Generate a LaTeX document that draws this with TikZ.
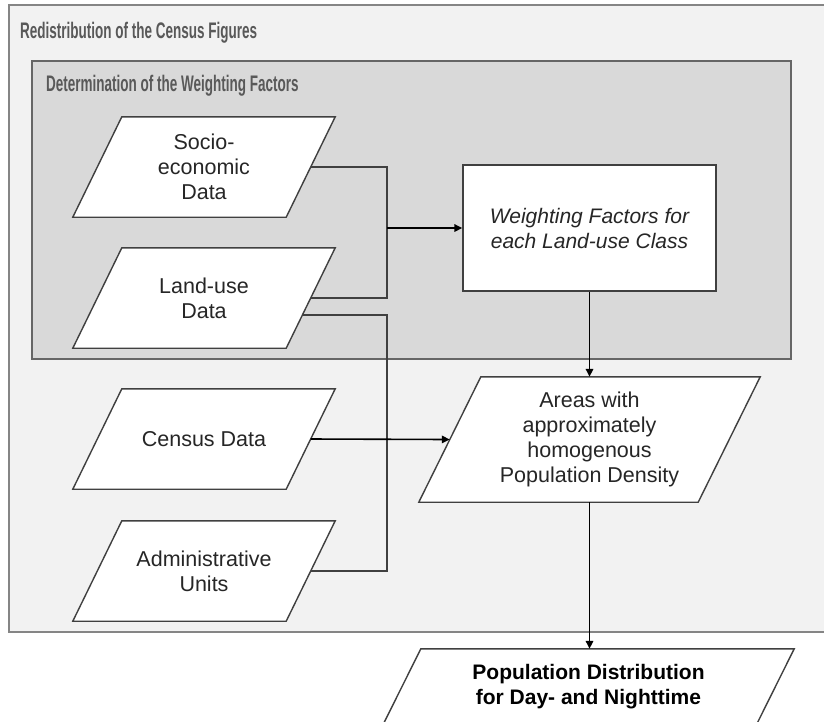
\documentclass[tikz,border=0pt]{standalone}
\usepackage{fontspec}
\setmainfont{Liberation Sans}
\newfontfamily\narrowfont[FakeStretch=0.6]{Liberation Sans}
\usetikzlibrary{arrows.meta,backgrounds}
\definecolor{outerfill}{HTML}{F2F2F2}
\definecolor{innerfill}{HTML}{D9D9D9}
\definecolor{framegray}{HTML}{858585}
\definecolor{wiregray}{HTML}{404040}
\definecolor{titlegray}{HTML}{595959}
\definecolor{inkgray}{HTML}{262626}
\pgfdeclarelayer{bottom}
\pgfsetlayers{bottom,background,main}
% slanted outline behind a data node: #1 node name, #2 half of the slant
\newcommand{\dataframe}[2]{%
  \draw[dataframe] ([xshift=#2]#1.north west) -- ([xshift=#2]#1.north east)
    -- ([xshift=-#2]#1.south east) -- ([xshift=-#2]#1.south west) -- cycle;}

\begin{document}
\begin{tikzpicture}[x=1pt,y=-1pt,
  datanode/.style={rectangle,minimum width=213pt,minimum height=100pt,inner sep=0pt,align=center,text=inkgray,font=\fontsize{21.5}{25}\selectfont},
  dataframe/.style={draw=wiregray,line width=1.4pt,fill=white},
  framelabel/.style={anchor=west,inner sep=0pt,text=titlegray,font=\narrowfont\bfseries\fontsize{22.5}{26}\selectfont},
  wire/.style={draw=wiregray,line width=1.5pt},
  arrowline/.style={-{Triangle[length=8pt,width=7.5pt]},black,line width=1.6pt}]
\useasboundingbox (0,0) rectangle (824,721);
\clip (0,0) rectangle (824,721);
% frames
\begin{pgfonlayer}{bottom}
\draw[fill=outerfill,draw=framegray,line width=2pt] (9,5) rectangle (834,632);
\draw[fill=innerfill,draw=wiregray!80,line width=1.8pt] (32,61) rectangle (791,359);
\end{pgfonlayer}
\node[framelabel] (redist) at (20,33) {Redistribution of the Census Figures};
\node[framelabel] (determ) at (46,86) {Determination of the Weighting Factors};
% inputs
\node[datanode] (socio) at (204,167) {Socio-\\economic\\Data};
\node[datanode] (landuse) at (204,298) {Land-use\\Data};
\node[datanode] (census) at (204,439) {Census Data};
\node[datanode] (admin) at (204,571) {Administrative\\Units};
% results
\node[rectangle,draw=wiregray,line width=1.4pt,fill=white,minimum width=253pt,minimum height=126pt,align=center,text=inkgray,font=\itshape\fontsize{21}{25}\selectfont] (weight) at (589.5,228) {Weighting Factors for\\each Land-use Class};
\node[datanode,minimum width=279pt,minimum height=125pt] (areas) at (589.5,439.5) {Areas with\\approximately\\homogenous\\Population Density};
\node[datanode,minimum width=373pt,minimum height=76pt,text=black,font=\bfseries\fontsize{21}{25}\selectfont] (popdist) at (588.5,687) {Population Distribution\\for Day- and Nighttime};
\begin{pgfonlayer}{background}
\dataframe{socio}{24.5}
\dataframe{landuse}{24.5}
\dataframe{census}{24.5}
\dataframe{admin}{24.5}
\dataframe{areas}{31}
\dataframe{popdist}{19}
\end{pgfonlayer}
% connectors
\coordinate (join) at (387,228);
\coordinate (bus) at (387,440);
\coordinate (lulow) at ([xshift=-8.3pt,yshift=-17pt]landuse.east);
\draw[wire] (socio.east) -| (join) |- (landuse.east);
\draw[arrowline] (join) -- (weight.west);
\draw[wire] (lulow) -| (bus) |- (admin.east);
\draw[arrowline] (census.east) -- (areas.west);
\draw[arrowline] (weight.south) -- (areas.north);
\draw[arrowline] (areas.south) -- (areas.south |- popdist.north);
\end{tikzpicture}
\end{document}
